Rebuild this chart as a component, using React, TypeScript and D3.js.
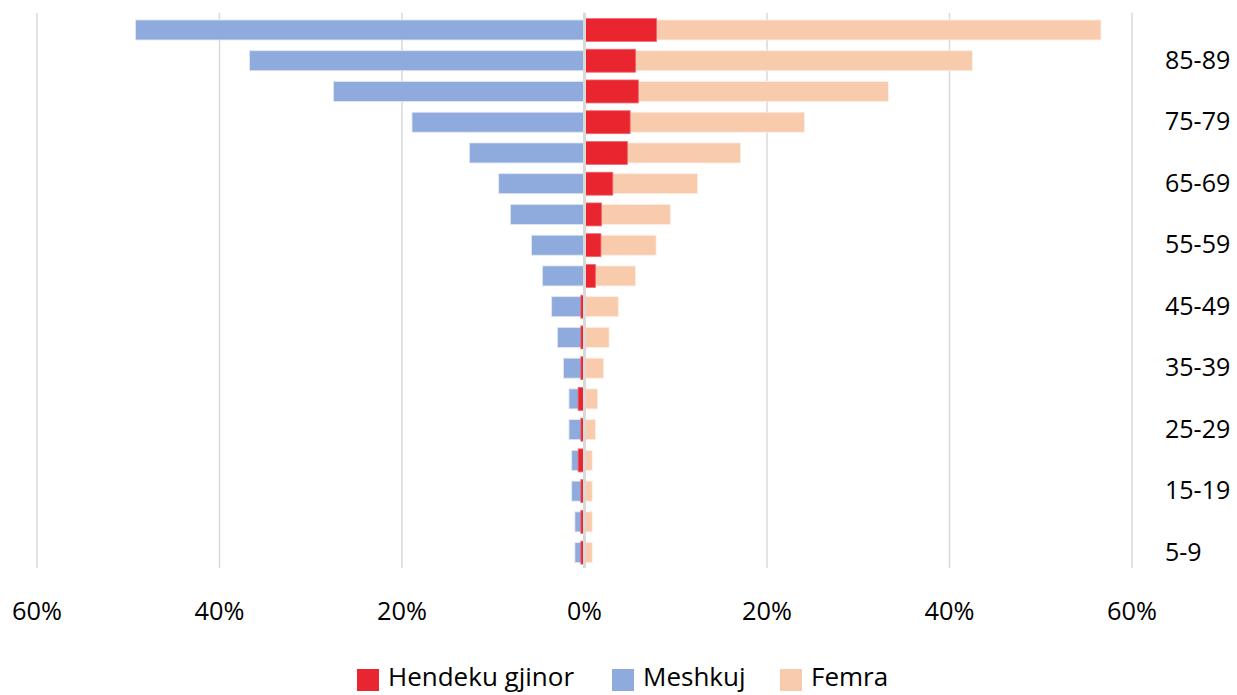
import React from "react";
import * as d3 from "d3";

const ageGroups = ["5-9","10-14","15-19","20-24","25-29","30-34","35-39","40-44","45-49","50-54","55-59","60-64","65-69","70-74","75-79","80-84","85-89","90+"];
const shownLabels = ["5-9","15-19","25-29","35-39","45-49","55-59","65-69","75-79","85-89"];
const meshkuj = [1.05,1.05,1.4,1.4,1.7,1.7,2.3,2.95,3.6,4.6,5.8,8.1,9.4,12.6,18.9,27.5,36.7,49.2];
const femra = [0.85,0.85,0.85,0.85,1.2,1.45,2.1,2.7,3.7,5.6,7.85,9.4,12.4,17.1,24.1,33.3,42.5,56.6];
const hendeku = [-0.4,-0.4,-0.4,-0.7,-0.4,-0.7,-0.4,-0.4,-0.4,1.2,1.8,1.85,3.1,4.7,5.0,5.9,5.6,7.9];
const ticks = [-60,-40,-20,0,20,40,60];
const legendItems = [
  { name: "Hendeku gjinor", color: "#e9262f" },
  { name: "Meshkuj", color: "#8faadc" },
  { name: "Femra", color: "#f8cbad" },
];

const W = 1237, H = 695;
const FONT = "'Open Sans', 'Noto Sans', sans-serif";

export default function App() {
  const x = d3.scaleLinear().domain([-60, 60]).range([37, 1132]);
  const y = d3.scaleBand<string>().domain([...ageGroups].reverse()).range([14.6, 568]).paddingInner(0.35).paddingOuter(0.175);
  const bh = y.bandwidth();
  const legendX = [357, 612, 780];
  return (
    <svg width={W} height={H} style={{ position: "absolute", left: 0, top: 0, background: "#fff" }}>
      {ticks.filter(t => t !== 0).map(t => (
        <line key={t} x1={x(t)} x2={x(t)} y1={12.7} y2={568} stroke="#d9d9d9" strokeWidth={1.5} />
      ))}
      {ageGroups.map((g, i) => (
        <g key={g}>
          <rect x={x(-meshkuj[i])} y={y(g)} width={x(0) - x(-meshkuj[i])} height={bh} fill="#8faadc" stroke="#dfe7f5" strokeWidth={0.8} />
          <rect x={x(0)} y={y(g)} width={x(femra[i]) - x(0)} height={bh} fill="#f8cbad" stroke="#fdeee4" strokeWidth={0.8} />
          <rect x={Math.min(x(0), x(hendeku[i]))} y={(y(g) as number) - 1.5} width={Math.abs(x(hendeku[i]) - x(0))} height={bh + 3} fill="#e9262f" stroke="#ef6a70" strokeWidth={0.8} />
        </g>
      ))}
      <line x1={x(0)} x2={x(0)} y1={12.7} y2={568} stroke="#d9d9d9" strokeWidth={3} />
      {ticks.map(t => (
        <text key={t} x={x(t)} y={620} textAnchor="middle" fontFamily={FONT} fontSize={25} fill="#000" textLength={t === 0 ? undefined : 50} lengthAdjust="spacingAndGlyphs">
          {Math.abs(t) + "%"}
        </text>
      ))}
      {shownLabels.map(l => (
        <text key={l} x={1165} y={(y(l) as number) + bh / 2 - 2} dominantBaseline="central" fontFamily={FONT} fontSize={25} fill="#000">
          {l}
        </text>
      ))}
      {legendItems.map((it, i) => (
        <g key={it.name}>
          <rect x={legendX[i]} y={669} width={22} height={22} fill={it.color} />
          <text x={legendX[i] + 31} y={686} fontFamily={FONT} fontSize={26} fill="#000">{it.name}</text>
        </g>
      ))}
    </svg>
  );
}
